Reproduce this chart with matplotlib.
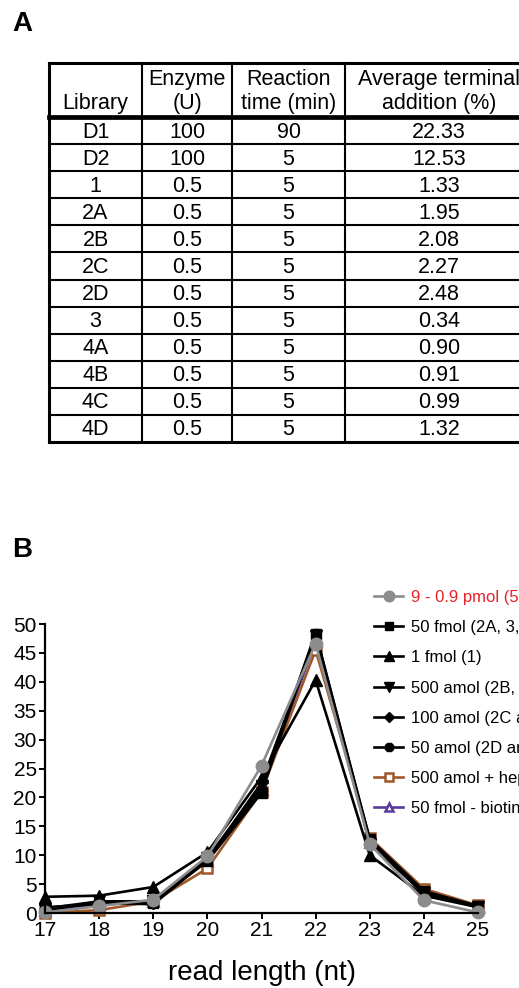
import numpy as np
import matplotlib
matplotlib.use("Agg")
import matplotlib.pyplot as plt

plt.rcParams['font.family'] = ['Liberation Sans', 'DejaVu Sans']

# table data (panel A)
col_labels = ["Library", "Enzyme\n(U)", "Reaction\ntime (min)", "Average terminal\naddition (%)"]
libraries = ["D1", "D2", "1", "2A", "2B", "2C", "2D", "3", "4A", "4B", "4C", "4D"]
enzyme = ["100", "100", "0.5", "0.5", "0.5", "0.5", "0.5", "0.5", "0.5", "0.5", "0.5", "0.5"]
rtime = ["90", "5", "5", "5", "5", "5", "5", "5", "5", "5", "5", "5"]
addition = ["22.33", "12.53", "1.33", "1.95", "2.08", "2.27", "2.48", "0.34", "0.90", "0.91", "0.99", "1.32"]

# read length distribution (panel B)
read_len = [17, 18, 19, 20, 21, 22, 23, 24, 25]
pmol_9 = [0.1, 1.2, 2.3, 9.8, 25.5, 46.6, 11.9, 2.2, 0.1]
fmol_50 = [1.0, 1.5, 1.8, 9.0, 20.8, 48.3, 12.8, 3.8, 1.2]
fmol_1 = [2.8, 3.0, 4.5, 10.5, 23.5, 40.3, 10.0, 3.0, 1.0]
amol_500 = [0.5, 2.0, 2.0, 9.5, 22.0, 48.0, 12.0, 3.5, 1.0]
amol_100 = [0.5, 1.8, 1.5, 9.2, 22.5, 47.8, 12.2, 3.3, 1.1]
amol_50 = [0.8, 2.0, 2.0, 9.3, 21.5, 48.5, 12.5, 3.5, 1.2]
amol_500_hep = [0.0, 0.5, 2.0, 7.7, 21.0, 45.5, 13.0, 4.2, 1.3]
fmol_50_biotin = [0.5, 1.5, 2.0, 9.0, 21.5, 47.0, 12.3, 3.5, 1.1]

W, H = 519, 988
fig = plt.figure(figsize=(W / 100, H / 100), dpi=100)

def px(x0, y0, x1, y1):
    return [x0 / W, 1 - y1 / H, (x1 - x0) / W, (y1 - y0) / H]

fig.text(12 / W, 1 - 24 / H, "A", fontsize=20, fontweight="bold", va="center")
fig.text(12 / W, 1 - 550 / H, "B", fontsize=20, fontweight="bold", va="center")

# ---- table ----
tab = fig.add_axes(px(49, 63, 533, 442))
tab.axis("off")
col_edges = [0, 93, 183, 296, 484]
nrows = len(libraries)
tab.set_xlim(0, col_edges[-1])
tab.set_ylim(nrows + 2, 0)

lw_in = 1.5
for x in col_edges:
    tab.plot([x, x], [0, nrows + 2], color="black", lw=2.2 if x in (0, col_edges[-1]) else lw_in,
             clip_on=False, solid_capstyle="projecting")
tab.plot([0, col_edges[-1]], [0, 0], color="black", lw=2.2, clip_on=False, solid_capstyle="projecting")
tab.plot([0, col_edges[-1]], [2, 2], color="black", lw=3.4, clip_on=False)
for r in range(1, nrows):
    tab.plot([0, col_edges[-1]], [2 + r, 2 + r], color="black", lw=lw_in, clip_on=False)
tab.plot([0, col_edges[-1]], [nrows + 2, nrows + 2], color="black", lw=2.2, clip_on=False,
         solid_capstyle="projecting")

centers = [(col_edges[i] + col_edges[i + 1]) / 2 for i in range(4)]
for i, lab in enumerate(col_labels):
    tab.text(centers[i], 1.88, lab, ha="center", va="bottom", fontsize=15.5,
             linespacing=1.15, clip_on=False)
for r, row in enumerate(zip(libraries, enzyme, rtime, addition)):
    for i, val in enumerate(row):
        tab.text(centers[i], 2 + r + 0.55, val, ha="center", va="center", fontsize=15.5, clip_on=False)

# ---- line chart ----
ax = fig.add_axes(px(45, 624, 478, 913))
series = [
    ("50 fmol - biotin", fmol_50_biotin, dict(color="#5b3a9b", marker="^", mfc="white", mec="#5b3a9b", ms=7, mew=1.8)),
    ("500 amol + heparin", amol_500_hep, dict(color="#a0582a", marker="s", mfc="white", mec="#a0582a", ms=7, mew=1.8)),
    ("50 amol (2D and 4D)", amol_50, dict(color="black", marker="8", ms=7)),
    ("100 amol (2C and 4C)", amol_100, dict(color="black", marker="D", ms=5.5)),
    ("500 amol (2B, 4B)", amol_500, dict(color="black", marker="v", ms=8)),
    ("1 fmol (1)", fmol_1, dict(color="black", marker="^", ms=8)),
    ("50 fmol (2A, 3, 4A)", fmol_50, dict(color="black", marker="s", ms=7)),
    ("9 - 0.9 pmol (5 - 0.5 pmol)", pmol_9, dict(color="#8c8c8c", marker="o", ms=9)),
]
handles = {}
for label, ys, kw in series:
    h, = ax.plot(read_len, ys, lw=1.9, clip_on=False, label=label, **kw)
    handles[label] = h

ax.set_xlim(17, 25)
ax.set_ylim(0, 50)
ax.set_xticks(read_len)
ax.set_yticks(np.arange(0, 51, 5))
for s in ("top", "right"):
    ax.spines[s].set_visible(False)
for s in ("left", "bottom"):
    ax.spines[s].set_linewidth(1.6)
ax.tick_params(direction="out", length=4, width=1.4, labelsize=15, pad=2)
ax.set_xlabel("read length (nt)", fontsize=20, labelpad=14)

order = [s[0] for s in series][::-1]
leg = fig.legend([handles[k] for k in order], order, loc="upper left",
                 bbox_to_anchor=(374 / W, 1 - 590 / H), frameon=False, fontsize=12,
                 borderpad=0, borderaxespad=0, handlelength=1.75, handletextpad=0.45,
                 labelspacing=0.91, markerscale=0.85)
leg.get_texts()[0].set_color("#e8202a")

fig.savefig("out.png", dpi=100)
